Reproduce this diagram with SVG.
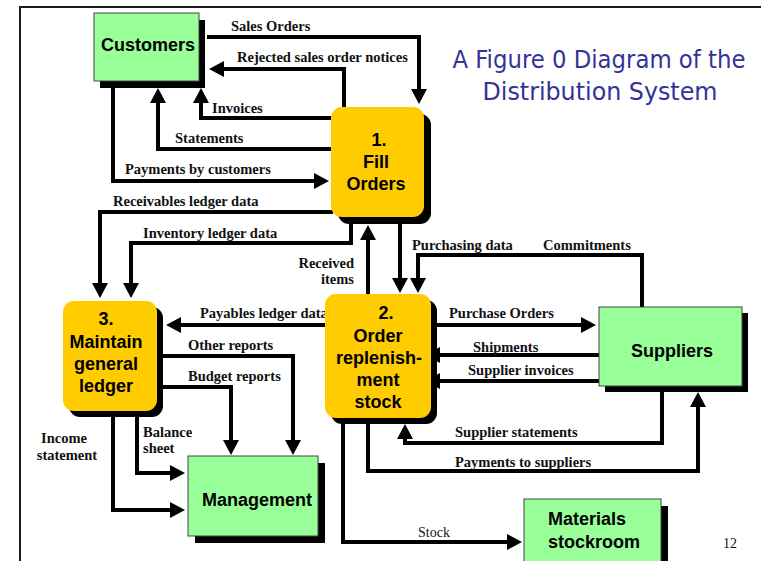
<svg xmlns="http://www.w3.org/2000/svg" width="761" height="561" viewBox="0 0 761 561">
<style>
.frame{stroke:#1a1a1a;stroke-width:2;fill:none}
.c{fill:none;stroke:#000;stroke-width:4;stroke-linejoin:miter;marker-end:url(#ah)}
.lbl{font-family:"Liberation Serif","Times New Roman",serif;font-weight:bold;font-size:14.5px;fill:#111}
.lblr{font-family:"Liberation Serif","Times New Roman",serif;font-size:14px;fill:#111}
.shadow{fill:#000}
.ent{fill:#99FF99;stroke:#444;stroke-width:1}
.proc{fill:#FFCC00}
.nt{font-family:"Liberation Sans",Arial,sans-serif;font-weight:bold;font-size:18px;fill:#000;text-anchor:middle}
.title{font-family:"Liberation Sans Narrow","DejaVu Sans Condensed","Liberation Sans",sans-serif;font-size:25px;fill:#333399;text-anchor:middle}
</style>
<defs>
<marker id="ah" markerUnits="userSpaceOnUse" markerWidth="15" markerHeight="16" viewBox="0 0 15 16" refX="11" refY="8" orient="auto">
<path d="M0,0 L15,8 L0,16 z" fill="#000"/>
</marker>
</defs>
<rect width="761" height="561" fill="#fff"/>
<path class="frame" d="M20,561 V7 H761"/>
<g id="title">
<text class="title" x="599" y="68" textLength="293" lengthAdjust="spacingAndGlyphs">A Figure 0 Diagram of the</text>
<text class="title" x="600" y="100" textLength="235" lengthAdjust="spacingAndGlyphs">Distribution System</text>
</g>
<g id="connectors">
<path class="c" d="M207,37 H419 V100"/>
<path class="c" d="M344,109 V69 H213"/>
<path class="c" d="M333,118 H201 V92"/>
<path class="c" d="M333,149 H158 V92"/>
<path class="c" d="M113,86 V181 H325"/>
<path class="c" d="M333,212 H100 V294"/>
<path class="c" d="M351,215 V243 H131 V294"/>
<path class="c" d="M368,296 V229"/>
<path class="c" d="M400,220 V289"/>
<path class="c" d="M642,307 V255 H418 V289"/>
<path class="c" d="M327,325 H170"/>
<path class="c" d="M161,356 H293 V451"/>
<path class="c" d="M161,387 H231 V451"/>
<path class="c" d="M137,415 V473 H181"/>
<path class="c" d="M113,415 V510 H181"/>
<path class="c" d="M435,325 H592"/>
<path class="c" d="M599,355 H429"/>
<path class="c" d="M599,381 H429"/>
<path class="c" d="M662,390 V443 H405 V428"/>
<path class="c" d="M368,422 V471 H698 V396"/>
<path class="c" d="M343,422 V542 H518"/>
<text class="lbl" x="231" y="31">Sales Orders</text>
<text class="lbl" x="237" y="62">Rejected sales order notices</text>
<text class="lbl" x="212" y="113">Invoices</text>
<text class="lbl" x="175" y="143">Statements</text>
<text class="lbl" x="125" y="174">Payments by customers</text>
<text class="lbl" x="113" y="206">Receivables ledger data</text>
<text class="lbl" x="143" y="238">Inventory ledger data</text>
<text class="lbl" x="354" y="268" text-anchor="end">Received</text>
<text class="lbl" x="354" y="284" text-anchor="end">items</text>
<text class="lbl" x="412" y="250">Purchasing data</text>
<text class="lbl" x="543" y="250">Commitments</text>
<text class="lbl" x="200" y="318">Payables ledger data</text>
<text class="lbl" x="188" y="350">Other reports</text>
<text class="lbl" x="188" y="381">Budget reports</text>
<text class="lbl" x="143" y="437">Balance</text>
<text class="lbl" x="143" y="453">sheet</text>
<text class="lbl" x="64" y="443" text-anchor="middle">Income</text>
<text class="lbl" x="67" y="460" text-anchor="middle">statement</text>
<text class="lbl" x="449" y="318">Purchase Orders</text>
<text class="lbl" x="473" y="352">Shipments</text>
<text class="lbl" x="468" y="375">Supplier invoices</text>
<text class="lbl" x="455" y="437">Supplier statements</text>
<text class="lbl" x="455" y="467">Payments to suppliers</text>
<text class="lblr" x="418" y="537">Stock</text>
</g>
<g id="customers">
<rect class="shadow" x="100" y="20" width="105" height="68"/>
<rect class="ent" x="94" y="13" width="105" height="68"/>
<text class="nt" x="148" y="51">Customers</text>
</g>
<g id="fill-orders">
<rect class="shadow" x="338" y="114" width="93" height="110" rx="11"/>
<rect class="proc" x="331" y="107" width="93" height="110" rx="11"/>
<text class="nt" x="379" y="146">1.</text>
<text class="nt" x="376" y="168">Fill</text>
<text class="nt" x="376" y="190">Orders</text>
</g>
<g id="order-replenishment">
<rect class="shadow" x="331" y="300" width="106" height="124" rx="11"/>
<rect class="proc" x="325" y="294" width="106" height="124" rx="11"/>
<text class="nt" x="386" y="319">2.</text>
<text class="nt" x="378" y="342">Order</text>
<text class="nt" x="379" y="364">replenish-</text>
<text class="nt" x="378" y="386">ment</text>
<text class="nt" x="378" y="408">stock</text>
</g>
<g id="maintain-ledger">
<rect class="shadow" x="69" y="307" width="94" height="110" rx="11"/>
<rect class="proc" x="63" y="301" width="94" height="110" rx="11"/>
<text class="nt" x="106" y="325">3.</text>
<text class="nt" x="106" y="348">Maintain</text>
<text class="nt" x="106" y="370">general</text>
<text class="nt" x="106" y="392">ledger</text>
</g>
<g id="management">
<rect class="shadow" x="195" y="463" width="130" height="80"/>
<rect class="ent" x="188" y="456" width="130" height="80"/>
<text class="nt" x="257" y="506">Management</text>
</g>
<g id="suppliers">
<rect class="shadow" x="605" y="313" width="143" height="79"/>
<rect class="ent" x="599" y="307" width="143" height="79"/>
<text class="nt" x="672" y="357">Suppliers</text>
</g>
<g id="materials-stockroom">
<rect class="shadow" x="531" y="506" width="137" height="70"/>
<rect class="ent" x="524" y="499" width="137" height="70"/>
<text class="nt" x="548" y="525" text-anchor="start" style="text-anchor:start">Materials</text>
<text class="nt" x="548" y="548" style="text-anchor:start">stockroom</text>
</g>
<text class="lblr" x="723" y="548">12</text>
</svg>
